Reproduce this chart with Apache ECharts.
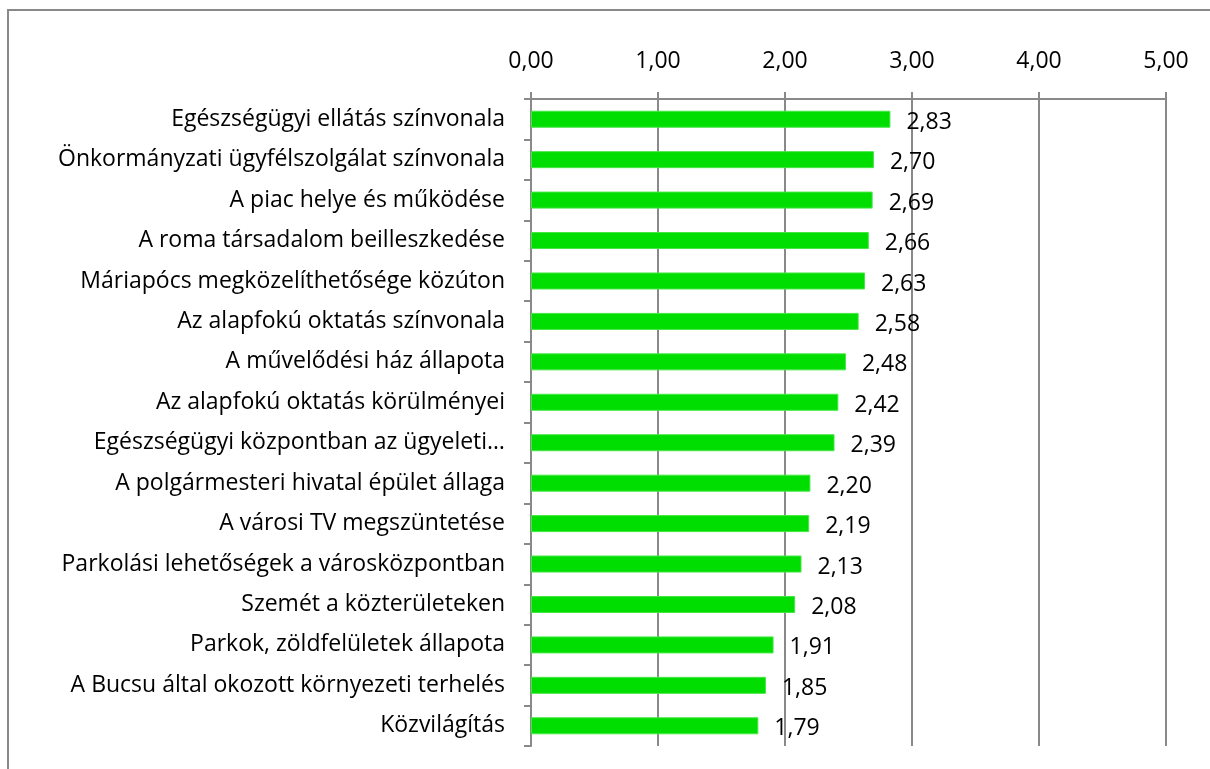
<!DOCTYPE html>
<html>
<head>
<meta charset="utf-8">
<script src="https://cdn.jsdelivr.net/npm/echarts@6/dist/echarts.min.js"></script>
<style>
  html, body { margin: 0; padding: 0; background: #fff; }
  #chart { width: 1210px; height: 769px; }
</style>
</head>
<body>
<div id="chart"></div>
<script>
// kategóriák (felülről lefelé)
const categories = [
  'Egészségügyi ellátás színvonala',
  'Önkormányzati ügyfélszolgálat színvonala',
  'A piac helye és működése',
  'A roma társadalom beilleszkedése',
  'Máriapócs megközelíthetősége közúton',
  'Az alapfokú oktatás színvonala',
  'A művelődési ház állapota',
  'Az alapfokú oktatás körülményei',
  'Egészségügyi központban az ügyeleti…',
  'A polgármesteri hivatal épület állaga',
  'A városi TV megszüntetése',
  'Parkolási lehetőségek a városközpontban',
  'Szemét a közterületeken',
  'Parkok, zöldfelületek állapota',
  'A Bucsu által okozott környezeti terhelés',
  'Közvilágítás'
];
const values = [2.83, 2.70, 2.69, 2.66, 2.63, 2.58, 2.48, 2.42, 2.39, 2.20, 2.19, 2.13, 2.08, 1.91, 1.85, 1.79];

const fontFamily = '"Open Sans", sans-serif';
const lineColor = '#898989';
const fmt = v => Number(v).toFixed(2).replace('.', ',');

const chart = echarts.init(document.getElementById('chart'));
chart.setOption({
  animation: false,
  textStyle: { fontFamily: fontFamily },
  grid: { left: 531, top: 99, width: 635, height: 647, containLabel: false },
  graphic: [{
    type: 'rect',
    shape: { x: 8, y: 10, width: 1300, height: 900 },
    style: { fill: 'none', stroke: lineColor, lineWidth: 2 },
    silent: true
  }],
  xAxis: {
    type: 'value',
    position: 'top',
    min: 0,
    max: 5,
    interval: 1,
    axisLine: { show: true, lineStyle: { color: lineColor, width: 2 } },
    axisTick: { show: true, length: 7, lineStyle: { color: lineColor, width: 2 } },
    splitLine: { show: true, lineStyle: { color: lineColor, width: 2 } },
    axisLabel: { formatter: fmt, fontSize: 23, color: '#000', margin: 26, fontFamily: fontFamily }
  },
  yAxis: {
    type: 'category',
    inverse: true,
    data: categories,
    axisLine: { show: true, lineStyle: { color: lineColor, width: 2 } },
    axisTick: { show: true, length: 7, lineStyle: { color: lineColor, width: 2 } },
    axisLabel: { fontSize: 23, color: '#000', margin: 26, padding: [5, 0, 0, 0], fontFamily: fontFamily }
  },
  series: [{
    type: 'bar',
    data: values,
    barWidth: 17,
    itemStyle: { color: '#00dd00', borderColor: '#44e844', borderWidth: 1 },
    label: {
      show: true,
      position: 'right',
      distance: 16,
      offset: [0, 3],
      fontSize: 23,
      color: '#000',
      fontFamily: fontFamily,
      formatter: p => fmt(p.value)
    }
  }]
});
</script>
</body>
</html>
